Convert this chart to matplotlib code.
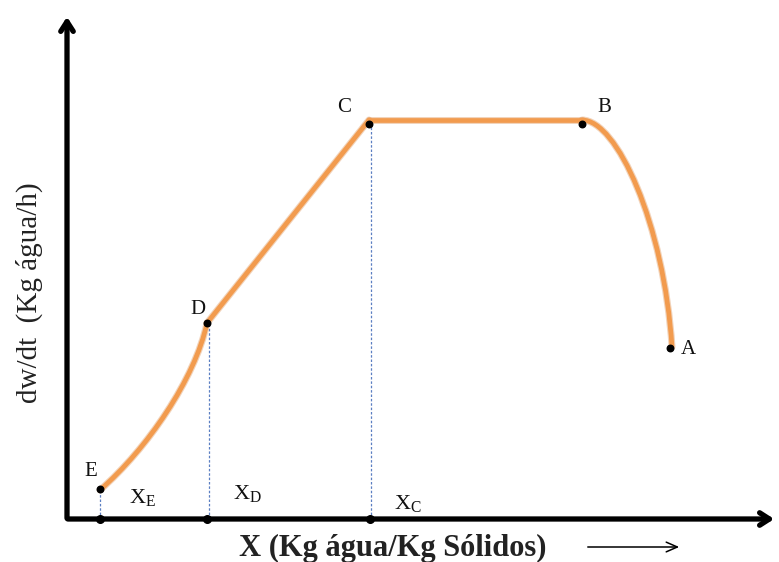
import numpy as np
import matplotlib.pyplot as plt
from matplotlib.path import Path
from matplotlib.patches import PathPatch

plt.rcParams['font.family'] = ['Liberation Serif', 'DejaVu Serif']
plt.rcParams['mathtext.fontset'] = 'custom'
plt.rcParams['mathtext.rm'] = 'Liberation Serif'

# drying curve (arbitrary units)
# falling rate E -> D (cubic bezier: start, ctrl, ctrl, end)
ed_x = [0.33, 0.80, 1.28, 1.40]
ed_y = [0.29, 0.70, 1.40, 1.96]
# linear D -> C
dc_x = [1.40, 3.02]
dc_y = [1.96, 3.99]
# constant rate C -> B
cb_x = [3.02, 5.15]
cb_y = [3.99, 3.99]
# warm-up B -> A (cubic bezier)
ba_x = [5.15, 5.50, 5.97, 6.05]
ba_y = [3.99, 3.99, 2.95, 1.72]

points = ['A', 'B', 'C', 'D', 'E']
pt_x = [6.03, 5.15, 3.02, 1.40, 0.33]
pt_y = [1.71, 3.95, 3.95, 1.96, 0.30]
crit = ['E', 'D', 'C']
crit_x = [0.33, 1.42, 3.04]
guide_top = [0.29, 1.96, 3.95]

fig = plt.figure(figsize=(7.79, 5.62), dpi=100)
ax = fig.add_axes([0, 0, 1, 1])
ax.set_xlim(-0.67, 7.12)
ax.set_ylim(-0.43, 5.19)
ax.axis('off')

orange = '#F29B4E'


def segment(xs, ys):
    verts = list(zip(xs, ys))
    if len(verts) == 4:
        codes = [Path.MOVETO, Path.CURVE4, Path.CURVE4, Path.CURVE4]
    else:
        codes = [Path.MOVETO, Path.LINETO]
    return Path(verts, codes)


for xs, ys in [(ed_x, ed_y), (dc_x, dc_y), (cb_x, cb_y), (ba_x, ba_y)]:
    p = segment(xs, ys)
    ax.add_patch(PathPatch(p, fill=False, ec='#D9823A', lw=5.0, alpha=0.35, capstyle='round', zorder=2))
    ax.add_patch(PathPatch(p, fill=False, ec=orange, lw=3.4, capstyle='round', zorder=3))

# dashed guides down to the X axis
for cx, cy in zip(crit_x, guide_top):
    ax.plot([cx, cx], [0, cy], color='#5B7FC2', lw=0.9, ls=(0, (2, 1.5)), zorder=1)

ax.scatter(pt_x, pt_y, s=22, color='black', zorder=4)
ax.scatter([0.33, 1.40, 3.03], [0, 0, 0], s=30, color='black', zorder=5)

# axes with arrows
ax.annotate('', xy=(7.10, 0), xytext=(-0.02, 0),
            arrowprops=dict(arrowstyle='->,head_length=0.7,head_width=0.45', lw=3.8, color='black'))
ax.annotate('', xy=(0, 5.05), xytext=(0, -0.02),
            arrowprops=dict(arrowstyle='->,head_length=0.7,head_width=0.45', lw=3.8, color='black'))

# point letters
lab_off = {'A': (0.18, -0.02), 'B': (0.22, 0.16), 'C': (-0.25, 0.16), 'D': (-0.09, 0.14), 'E': (-0.09, 0.17)}
for p, x, y in zip(points, pt_x, pt_y):
    dx, dy = lab_off[p]
    ax.text(x + dx, y + dy, p, fontsize=15, ha='center', va='center', color='#111111')

sub_pos = [(0.75, 0.22), (1.80, 0.26), (3.41, 0.15)]
for c, (x, y) in zip(crit, sub_pos):
    ax.text(x, y, r'$\mathrm{X_{' + c + '}}$', fontsize=16, ha='center', va='center', color='#111111')

ax.text(3.26, -0.29, 'X (Kg água/Kg Sólidos)', fontsize=22, fontweight='bold',
        ha='center', va='center', color='#222222')
ax.annotate('', xy=(6.15, -0.28), xytext=(5.18, -0.28),
            arrowprops=dict(arrowstyle='->,head_length=0.8,head_width=0.35', lw=1.1, color='black'))
ax.text(-0.38, 2.26, 'dw/dt  (Kg água/h)', fontsize=21, rotation=90,
        ha='center', va='center', color='#222222')

fig.savefig('out.png', dpi=100)
